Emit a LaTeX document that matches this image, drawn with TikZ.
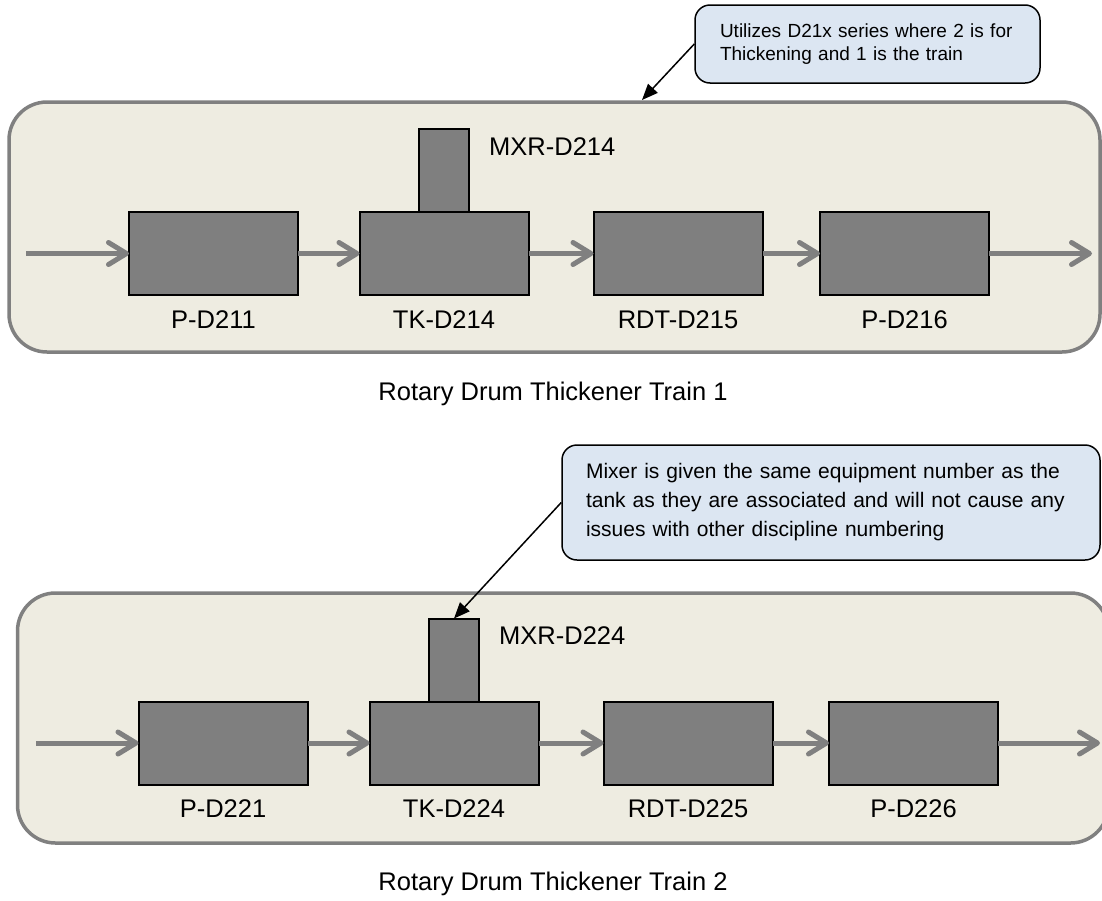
\documentclass[tikz,border=0pt]{standalone}
\usepackage{fontspec}
\setmainfont{Liberation Sans}
\usetikzlibrary{arrows.meta, positioning}

\definecolor{panelfill}{RGB}{238,236,225}
\definecolor{panelline}{RGB}{128,128,128}
\definecolor{unitfill}{RGB}{127,127,127}
\definecolor{notefill}{RGB}{220,230,242}

\begin{document}
\begin{tikzpicture}[x=1pt,y=-1pt,
	panel/.style={draw=panelline,line width=3.5pt,fill=panelfill,rounded corners=38pt,minimum width=1091pt,minimum height=250pt},
	unit/.style={draw=black,line width=2pt,fill=unitfill,outer sep=0pt,minimum width=169pt,minimum height=83pt},
	mixer/.style={unit,minimum width=50pt},
	tag/.style={inner sep=0pt,font=\fontsize{25.5}{30}\selectfont},
	flow/.style={draw=panelline,line width=5pt,-{Straight Barb[length=18pt,width=22pt,round]}},
	note/.style={draw=black,line width=1.5pt,fill=notefill,rounded corners=15pt,align=left,inner xsep=25pt},
	pointer/.style={draw=black,line width=1.5pt,-{Triangle[length=16pt,width=13pt]}}]
	\useasboundingbox (0,0) rectangle (1102,900);

	% train 1
	\node[panel] (train1) at (554.5,227) {};
	\node[unit] (p211) at (213.5,253.5) {};
	\node[unit] (tk214) at (444,253.5) {};
	\node[mixer, above=0pt of tk214] (mx214) {};
	\node[unit] (rdt215) at (678,253.5) {};
	\node[unit] (p216) at (904.5,253.5) {};
	\node[tag, below=15pt of p211] (p211tag) {P-D211};
	\node[tag, below=15pt of tk214] (tk214tag) {TK-D214};
	\node[tag, below=15pt of rdt215] (rdt215tag) {RDT-D215};
	\node[tag, below=15pt of p216] (p216tag) {P-D216};
	\node[tag, below right=8pt and 20pt of mx214.north east] (mx214tag) {MXR-D214};
	\node[tag] (cap1) at (553,394) {Rotary Drum Thickener Train 1};
	\coordinate (in1) at (26,253.5);
	\coordinate (out1) at (1092,253.5);
	\path
		(in1)
			edge[flow] (p211)
		(p211)
			edge[flow] (tk214)
		(tk214)
			edge[flow] (rdt215)
		(rdt215)
			edge[flow] (p216)
		(p216)
			edge[flow] (out1);

	% train 2
	\node[panel] (train2) at (563,718) {};
	\node[unit] (p221) at (223,743) {};
	\node[unit] (tk224) at (454,743) {};
	\node[mixer, above=0pt of tk224] (mx224) {};
	\node[unit] (rdt225) at (688,743) {};
	\node[unit] (p226) at (913.5,743) {};
	\node[tag, below=15pt of p221] (p221tag) {P-D221};
	\node[tag, below=15pt of tk224] (tk224tag) {TK-D224};
	\node[tag, below=15pt of rdt225] (rdt225tag) {RDT-D225};
	\node[tag, below=15pt of p226] (p226tag) {P-D226};
	\node[tag, below right=8pt and 20pt of mx224.north east] (mx224tag) {MXR-D224};
	\node[tag] (cap2) at (553,884) {Rotary Drum Thickener Train 2};
	\coordinate (in2) at (36,743);
	\coordinate (out2) at (1100,743);
	\path
		(in2)
			edge[flow] (p221)
		(p221)
			edge[flow] (tk224)
		(tk224)
			edge[flow] (rdt225)
		(rdt225)
			edge[flow] (p226)
		(p226)
			edge[flow] (out2);

	% callouts
	\node[note, minimum width=345pt, minimum height=78pt, text width=295pt, font=\fontsize{19}{23}\selectfont] (note1) at (867.5,44) {Utilizes D21x series where 2 is for\\Thickening and 1 is the train};
	\coordinate (hit1) at (642,100);
	\draw[pointer] (note1.west) -- (hit1);
	\node[note, minimum width=538pt, minimum height=115pt, text width=490pt, inner xsep=24pt, font=\fontsize{21}{29}\selectfont] (note2) at (831,502.5) {Mixer is given the same equipment number as the\\tank as they are associated and will not cause any\\issues with other discipline numbering};
	\draw[pointer] (note2.west) -- (mx224.north);
\end{tikzpicture}
\end{document}
